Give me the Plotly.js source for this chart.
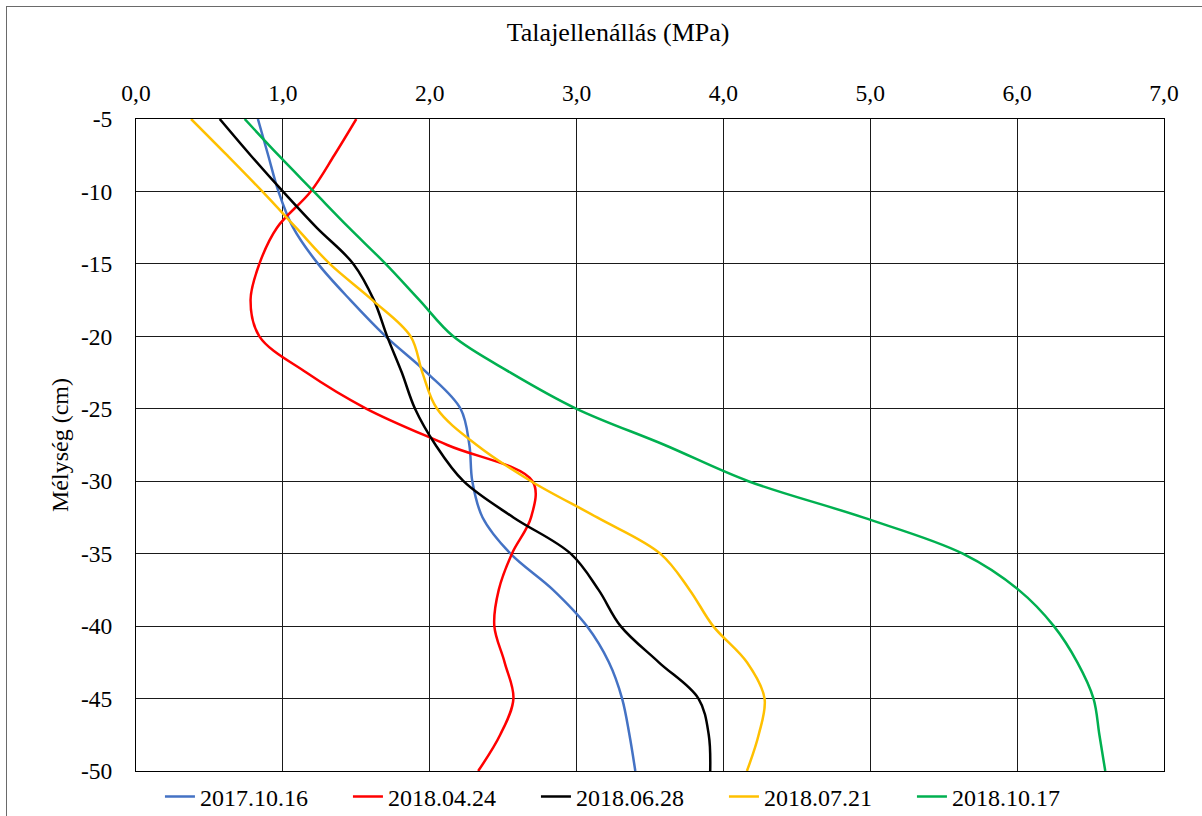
<!DOCTYPE html>
<html>
<head>
<meta charset="utf-8">
<script src="https://cdn.plot.ly/plotly-3.0.1.min.js"></script>
<style>
  html, body { margin: 0; padding: 0; background: #fff; overflow: hidden; }
  #chart { width: 1202px; height: 816px; position: absolute; left: 0; top: 0; }
  #frame { position: absolute; left: 6px; top: 6px; width: 1300px; height: 900px;
           border-left: 1.5px solid #6a6a6a; border-top: 1.5px solid #6a6a6a; pointer-events: none; }
</style>
</head>
<body>
<div id="chart"></div>
<div id="frame"></div>
<script>
// Depths (cm)
const depth = [-5, -7.5, -10, -12.5, -15, -17.5, -20, -22.5, -25, -27.5, -30, -32.5, -35, -37.5, -40, -42.5, -45, -47.5, -50];

// Penetration resistance (MPa) per measurement date
const s20171016 = [0.83, 0.90, 0.97, 1.07, 1.24, 1.46, 1.70, 1.98, 2.21, 2.27, 2.29, 2.36, 2.55, 2.84, 3.07, 3.22, 3.31, 3.36, 3.40];
const s20180424 = [1.50, 1.35, 1.19, 0.96, 0.84, 0.78, 0.84, 1.16, 1.57, 2.12, 2.70, 2.69, 2.56, 2.47, 2.44, 2.51, 2.57, 2.48, 2.33];
const s20180628 = [0.57, 0.78, 1.00, 1.23, 1.48, 1.62, 1.71, 1.81, 1.90, 2.04, 2.23, 2.57, 2.96, 3.15, 3.30, 3.56, 3.83, 3.90, 3.91];
const s20180721 = [0.375, 0.62, 0.86, 1.09, 1.32, 1.61, 1.87, 1.95, 2.05, 2.32, 2.69, 3.14, 3.57, 3.77, 3.93, 4.16, 4.28, 4.24, 4.16];
const s20181017 = [0.74, 0.97, 1.21, 1.45, 1.70, 1.93, 2.16, 2.55, 3.00, 3.60, 4.17, 4.95, 5.63, 6.01, 6.25, 6.41, 6.52, 6.56, 6.60];

const seriesNames = ['2017.10.16', '2018.04.24', '2018.06.28', '2018.07.21', '2018.10.17'];
const seriesValues = [s20171016, s20180424, s20180628, s20180721, s20181017];
const seriesColors = ['#4472C4', '#FF0000', '#000000', '#FFC000', '#00B050'];

const xTickVals = [0, 1, 2, 3, 4, 5, 6, 7];
const xTickText = ['0,0', '1,0', '2,0', '3,0', '4,0', '5,0', '6,0', '7,0'];
const yTickVals = [-5, -10, -15, -20, -25, -30, -35, -40, -45, -50];
const yTickText = ['-5', '-10', '-15', '-20', '-25', '-30', '-35', '-40', '-45', '-50'];

const FONT = '"Liberation Serif", "Times New Roman", "DejaVu Serif", serif';

const traces = seriesNames.map((name, i) => ({
  type: 'scatter',
  mode: 'lines',
  name: name,
  x: seriesValues[i],
  y: depth,
  line: { color: seriesColors[i], width: 2.5, shape: 'spline', smoothing: 1 },
  hoverinfo: 'skip'
}));

const layout = {
  width: 1202,
  height: 816,
  margin: { l: 136, r: 38, t: 119, b: 45, autoexpand: false },
  paper_bgcolor: '#ffffff',
  plot_bgcolor: '#ffffff',
  font: { family: FONT, size: 24, color: '#000000' },
  title: {
    text: 'Talajellenállás (MPa)',
    font: { family: FONT, size: 26, color: '#000000' },
    xref: 'paper', x: 0.469, xanchor: 'center',
    yref: 'container', y: 1 - 32 / 816, yanchor: 'middle'
  },
  xaxis: {
    side: 'top',
    range: [0, 7],
    tickvals: xTickVals,
    ticktext: xTickText,
    ticks: '',
    ticklabelstandoff: 8,
    showgrid: true,
    gridcolor: '#1a1a1a',
    gridwidth: 1,
    showline: true,
    linecolor: '#000000',
    linewidth: 1,
    mirror: true,
    zeroline: false,
    tickfont: { family: FONT, size: 23.5, color: '#000000' }
  },
  yaxis: {
    range: [-50, -5],
    tickvals: yTickVals,
    ticktext: yTickText,
    ticks: '',
    ticklabelstandoff: 18,
    showgrid: true,
    gridcolor: '#1a1a1a',
    gridwidth: 1,
    showline: true,
    linecolor: '#000000',
    linewidth: 1,
    mirror: true,
    zeroline: false,
    tickfont: { family: FONT, size: 23.5, color: '#000000' },
    title: { text: 'Mélység (cm)', font: { family: FONT, size: 24, color: '#000000' }, standoff: 5 }
  },
  showlegend: true,
  legend: {
    orientation: 'h',
    x: 0.0233, xanchor: 'left',
    y: -26 / 652, yanchor: 'middle',
    entrywidth: 143, entrywidthmode: 'pixels',
    font: { family: FONT, size: 24, color: '#000000' },
    bgcolor: 'rgba(0,0,0,0)',
    itemclick: false, itemdoubleclick: false
  },
  hovermode: false
};

Plotly.newPlot('chart', traces, layout, { displayModeBar: false, staticPlot: true });
</script>
</body>
</html>
